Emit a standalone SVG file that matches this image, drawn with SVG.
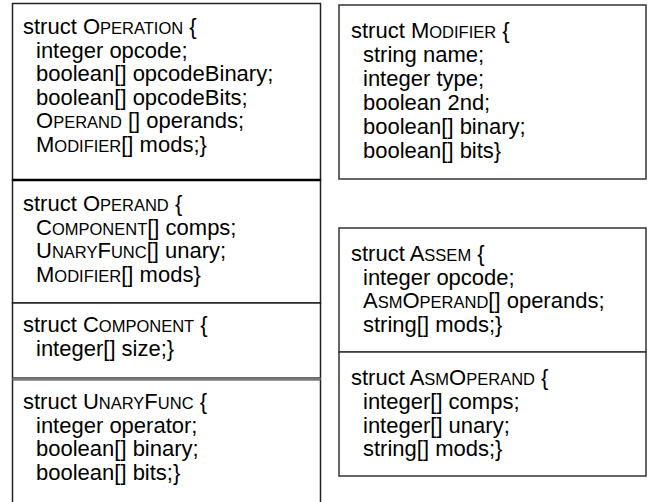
<svg xmlns="http://www.w3.org/2000/svg" width="648" height="502" viewBox="0 0 648 502">
<style>
.t{font-family:"Liberation Sans",Arial,sans-serif;font-size:22px;fill:#000}
.sc{font-size:16.5px}
.box{fill:#fff;stroke:#222;stroke-width:1.5}
.rbox{fill:#fff;stroke:#333;stroke-width:1.5}
</style>
<rect width="648" height="502" fill="#fff"/>
<g id="operation">
<rect class="box" x="12.5" y="3.5" width="308" height="176.5"/>
<text class="t" x="23" y="34">struct O<tspan class="sc">PERATION</tspan> {</text>
<text class="t" x="36" y="57.6">integer opcode;</text>
<text class="t" x="36" y="81.2">boolean[] opcodeBinary;</text>
<text class="t" x="36" y="104.8">boolean[] opcodeBits;</text>
<text class="t" x="36" y="128.4">O<tspan class="sc">PERAND</tspan> [] operands;</text>
<text class="t" x="36" y="152">M<tspan class="sc">ODIFIER</tspan>[] mods;}</text>
</g>
<g id="operand">
<rect class="box" x="12.5" y="180" width="308" height="123"/>
<text class="t" x="23" y="211">struct O<tspan class="sc">PERAND</tspan> {</text>
<text class="t" x="36" y="234.5">C<tspan class="sc">OMPONENT</tspan>[] comps;</text>
<text class="t" x="36" y="258">U<tspan class="sc">NARY</tspan>F<tspan class="sc">UNC</tspan>[] unary;</text>
<text class="t" x="36" y="281.5">M<tspan class="sc">ODIFIER</tspan>[] mods}</text>
</g>
<g id="component">
<rect class="box" x="12.5" y="303" width="308" height="75"/>
<text class="t" x="23" y="332">struct C<tspan class="sc">OMPONENT</tspan> {</text>
<text class="t" x="36" y="355.5">integer[] size;}</text>
</g>
<g id="unaryfunc">
<rect class="box" x="12.5" y="379.5" width="308" height="130"/>
<line x1="12.5" y1="379" x2="320.5" y2="379" stroke="#777" stroke-width="3"/>
<text class="t" x="23" y="409">struct U<tspan class="sc">NARY</tspan>F<tspan class="sc">UNC</tspan> {</text>
<text class="t" x="36" y="432.5">integer operator;</text>
<text class="t" x="36" y="456">boolean[] binary;</text>
<text class="t" x="36" y="479.5">boolean[] bits;}</text>
</g>
<line x1="12.5" y1="180" x2="320.5" y2="180" stroke="#000" stroke-width="2.5"/>
<g id="modifier">
<rect class="rbox" x="339" y="5" width="307" height="174"/>
<text class="t" x="351" y="38">struct M<tspan class="sc">ODIFIER</tspan> {</text>
<text class="t" x="363" y="62">string name;</text>
<text class="t" x="363" y="86">integer type;</text>
<text class="t" x="363" y="110">boolean 2nd;</text>
<text class="t" x="363" y="134">boolean[] binary;</text>
<text class="t" x="363" y="158">boolean[] bits}</text>
</g>
<g id="assem">
<rect class="rbox" x="339" y="228" width="307" height="124"/>
<text class="t" x="351" y="261">struct A<tspan class="sc">SSEM</tspan> {</text>
<text class="t" x="363" y="285">integer opcode;</text>
<text class="t" x="363" y="308">A<tspan class="sc">SM</tspan>O<tspan class="sc">PERAND</tspan>[] operands;</text>
<text class="t" x="363" y="332">string[] mods;}</text>
</g>
<g id="asmoperand">
<rect class="rbox" x="339" y="352" width="307" height="124"/>
<text class="t" x="351" y="385">struct A<tspan class="sc">SM</tspan>O<tspan class="sc">PERAND</tspan> {</text>
<text class="t" x="363" y="409">integer[] comps;</text>
<text class="t" x="363" y="433">integer[] unary;</text>
<text class="t" x="363" y="456">string[] mods;}</text>
</g>
<g id="connectors"/>
</svg>
